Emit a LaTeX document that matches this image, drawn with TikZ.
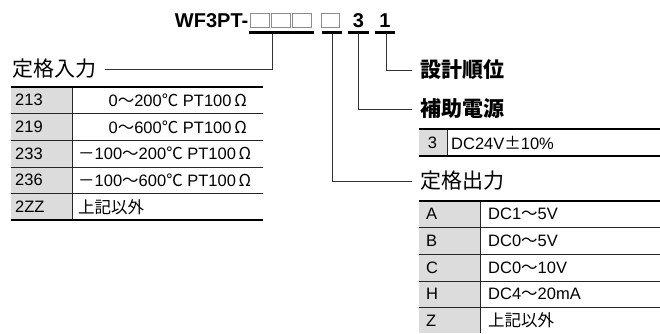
\documentclass[tikz,border=0pt]{standalone}
\usepackage{fontspec}
\setmainfont{Liberation Sans}
\newfontfamily\jp{Noto Sans CJK JP}
\definecolor{cellgray}{HTML}{DCDCDC}
\definecolor{conncol}{HTML}{333333}
\definecolor{boxgray}{HTML}{8C8C8C}
\begin{document}
\begin{tikzpicture}[x=1pt,y=-1pt,
  tbl/.style={font=\fontsize{16.5}{19}\selectfont, inner sep=0pt},
  hdr/.style={font=\jp\fontsize{21}{24}\selectfont, inner ysep=0pt, inner xsep=8pt},
  hdrb/.style={font=\jp\bfseries\fontsize{21}{24}\selectfont, inner ysep=0pt, inner xsep=8pt},
  titletext/.style={font=\bfseries\fontsize{20}{22}\selectfont, inner sep=0pt},
  bar/.style={fill=black, inner sep=0pt, minimum height=3pt},
  slot/.style={draw=boxgray, line width=0.9pt, fill=white, minimum width=18.5pt, minimum height=14pt, inner sep=0pt},
  conn/.style={draw=conncol, line width=0.9pt},
  thickrule/.style={line width=2.2pt},
  thinrule/.style={line width=0.9pt, draw=black!85}]
\useasboundingbox (0,0) rectangle (660,333);

% title
\node[titletext, anchor=base east] (title) at (248.5,27) {WF3PT-};
\node[slot] (s1) at (260,20) {};
\node[slot] (s2) at (281,20) {};
\node[slot] (s3) at (302,20) {};
\node[slot] (s4) at (330.5,20) {};
\node[titletext, anchor=base] (d3) at (358.5,27) {3};
\node[titletext, anchor=base] (d1) at (385,27) {1};

% bars
\node[bar, minimum width=65pt] (b1) at (281.5,32) {};
\node[bar, minimum width=20pt] (b2) at (332,32) {};
\node[bar, minimum width=21pt] (b3) at (358.5,32) {};
\node[bar, minimum width=20pt] (b4) at (385,32) {};

% headers
\node[hdr, anchor=east] (h1) at (105,69) {定格入力};
\node[hdrb, anchor=west] (h4) at (412,70) {設計順位};
\node[hdrb, anchor=west] (h3) at (412,109) {補助電源};
\node[hdr, anchor=west] (h2) at (412,181) {定格出力};

% connectors
\draw[conn] ([xshift=-9.5pt]b1.south) |- (h1.east);
\draw[conn] ([xshift=1pt]b4.south) |- (h4.west);
\draw[conn] (b3.south) |- (h3.west);
\draw[conn] (b2.south) |- (h2.west);

% left table
\fill[cellgray] (11,87) rectangle (72,220);
\foreach \yy in {113.5,140.2,167,193.5} \draw[thinrule] (11,\yy) -- (263,\yy);
\draw[thinrule] (72,87) -- (72,220);
\draw[thickrule] (11,87) -- (263,87);
\draw[thickrule] (11,220) -- (263,220);
\node[tbl, anchor=west] (c1) at (15,100.3) {213};
\node[tbl, anchor=west] (c2) at (15,127) {219};
\node[tbl, anchor=west] (c3) at (15,153.6) {233};
\node[tbl, anchor=west] (c4) at (15,180.3) {236};
\node[tbl, anchor=west] (c5) at (15,207) {2ZZ};
\node[tbl, anchor=east] (t1) at (247,100.3) {0{\jp ～}200{\jp ℃} PT100\,{\jp Ω}};
\node[tbl, anchor=east] (t2) at (247,127) {0{\jp ～}600{\jp ℃} PT100\,{\jp Ω}};
\node[tbl, anchor=west] (t3) at (78,153.6) {{\jp －}100{\jp ～}200{\jp ℃} PT100\,{\jp Ω}};
\node[tbl, anchor=west] (t4) at (78,180.3) {{\jp －}100{\jp ～}600{\jp ℃} PT100\,{\jp Ω}};
\node[tbl, anchor=west] (t5) at (78,207) {\jp 上記以外};

% power table
\fill[cellgray] (419,129) rectangle (447,156);
\draw[thinrule] (447,129) -- (447,156);
\draw[thickrule] (419,129) -- (660,129);
\draw[thickrule] (419,156) -- (660,156);
\node[tbl, anchor=center] (p1) at (432.5,142.5) {3};
\node[tbl, anchor=west] (p2) at (451,142.5) {DC24V{\jp ±}10\%};

% output table
\fill[cellgray] (419,201) rectangle (480,333);
\foreach \yy in {227.7,254.3,281,307.7} \draw[thinrule] (419,\yy) -- (660,\yy);
\draw[thinrule] (480,201) -- (480,333);
\draw[thickrule] (419,201) -- (660,201);
\node[tbl, anchor=west] (o1) at (426,214.3) {A};
\node[tbl, anchor=west] (o2) at (426,241) {B};
\node[tbl, anchor=west] (o3) at (426,267.7) {C};
\node[tbl, anchor=west] (o4) at (426,294.3) {H};
\node[tbl, anchor=west] (o5) at (426,320.5) {Z};
\node[tbl, anchor=west] (r1) at (488,214.3) {DC1{\jp ～}5V};
\node[tbl, anchor=west] (r2) at (488,241) {DC0{\jp ～}5V};
\node[tbl, anchor=west] (r3) at (488,267.7) {DC0{\jp ～}10V};
\node[tbl, anchor=west] (r4) at (488,294.3) {DC4{\jp ～}20mA};
\node[tbl, anchor=west] (r5) at (488,320.5) {\jp 上記以外};
\end{tikzpicture}
\end{document}
